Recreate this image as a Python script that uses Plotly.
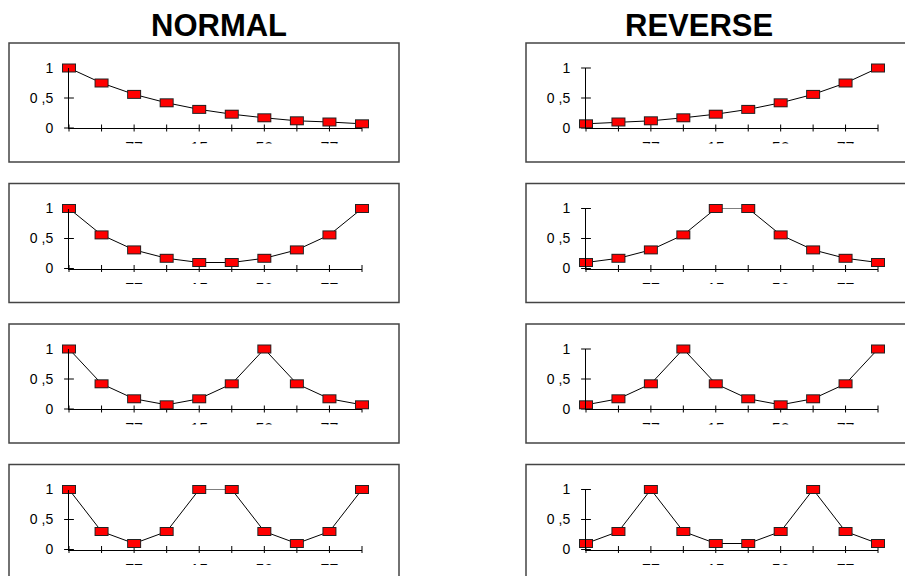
import plotly.graph_objects as go

# ---------------- data ----------------
x_idx = list(range(10))

normal_1 = [1, 0.75, 0.56, 0.42, 0.31, 0.23, 0.17, 0.12, 0.10, 0.07]
reverse_1 = [0.07, 0.10, 0.12, 0.17, 0.23, 0.31, 0.42, 0.56, 0.75, 1]
normal_2 = [1, 0.56, 0.31, 0.17, 0.10, 0.10, 0.17, 0.31, 0.56, 1]
reverse_2 = [0.10, 0.17, 0.31, 0.56, 1, 1, 0.56, 0.31, 0.17, 0.10]
normal_3 = [1, 0.42, 0.17, 0.07, 0.17, 0.42, 1, 0.42, 0.17, 0.07]
reverse_3 = [0.07, 0.17, 0.42, 1, 0.42, 0.17, 0.07, 0.17, 0.42, 1]
normal_4 = [1, 0.30, 0.10, 0.30, 1, 1, 0.30, 0.10, 0.30, 1]
reverse_4 = [0.10, 0.30, 1, 0.30, 0.10, 0.10, 0.30, 1, 0.30, 0.10]

y_tick_vals = [0, 0.5, 1]
y_tick_text = ["0", "0 ,5", "1"]
x_label_pos = [2, 4, 6, 8]
x_label_text = ["77", "15", "50", "77"]
column_titles = ["NORMAL", "REVERSE"]

rows = [(normal_1, reverse_1), (normal_2, reverse_2),
        (normal_3, reverse_3), (normal_4, reverse_4)]

# ---------------- layout geometry (pixels) ----------------
W, H = 905, 576
FONT = "Liberation Sans, Arial, sans-serif"
col_plot_x = [(69, 362), (586, 878)]
col_box_x = [(9, 399), (526, 912)]
row_step = 140.5
plot_top0, plot_bot0 = 68, 128
box_top0, box_bot0 = 43, 162


def px(x):
    return x / W


def py(y):
    return 1 - y / H


fig = go.Figure()
layout = dict(
    width=W, height=H, margin=dict(l=0, r=0, t=0, b=0, pad=0, autoexpand=False),
    paper_bgcolor="white", plot_bgcolor="white", showlegend=False,
    font=dict(family=FONT, color="black"),
)
shapes = []
annotations = []

for r, pair in enumerate(rows):
    for c, vals in enumerate(pair):
        n = r * 2 + c + 1
        xa = "x" if n == 1 else f"x{n}"
        ya = "y" if n == 1 else f"y{n}"
        xk = "xaxis" if n == 1 else f"xaxis{n}"
        yk = "yaxis" if n == 1 else f"yaxis{n}"
        top = plot_top0 + r * row_step
        bot = plot_bot0 + r * row_step
        x0, x1 = col_plot_x[c]

        # x tick marks (crossing the axis)
        fig.add_trace(go.Scatter(
            x=x_idx, y=[0] * len(x_idx), xaxis=xa, yaxis=ya, mode="markers",
            marker=dict(symbol="line-ns", size=5, color="black",
                        line=dict(width=1, color="black")),
            cliponaxis=False, hoverinfo="skip"))
        # y tick marks (crossing the axis)
        fig.add_trace(go.Scatter(
            x=[0] * len(y_tick_vals), y=y_tick_vals, xaxis=xa, yaxis=ya,
            mode="markers",
            marker=dict(symbol="line-ew", size=7, color="black",
                        line=dict(width=1, color="black")),
            cliponaxis=False, hoverinfo="skip"))
        # line + marker outline
        fig.add_trace(go.Scatter(
            x=x_idx, y=vals, xaxis=xa, yaxis=ya, mode="lines+markers",
            line=dict(color="black", width=1),
            marker=dict(symbol="line-ew", size=10, color="#222222",
                        line=dict(width=9, color="#222222")),
            cliponaxis=False))
        # red marker fill
        fig.add_trace(go.Scatter(
            x=x_idx, y=vals, xaxis=xa, yaxis=ya, mode="markers",
            marker=dict(symbol="line-ew", size=8.6, color="#ff0000",
                        line=dict(width=7, color="#ff0000")),
            cliponaxis=False, hoverinfo="skip"))

        layout[xk] = dict(
            domain=[px(x0), px(x1)], range=[0, 9], anchor=ya,
            showline=True, linecolor="black", linewidth=1,
            showgrid=False, zeroline=False, ticks="", automargin=False,
            tickmode="array", tickvals=x_label_pos, ticktext=x_label_text,
            tickfont=dict(size=16, family=FONT, color="black"),
            ticklabelstandoff=6, fixedrange=True)
        layout[yk] = dict(
            domain=[py(bot), py(top)], range=[0, 1], anchor=xa,
            showline=True, linecolor="black", linewidth=1,
            showgrid=False, zeroline=False, ticks="", automargin=False,
            tickmode="array", tickvals=y_tick_vals, ticktext=y_tick_text,
            tickfont=dict(size=14, family=FONT, color="black"),
            ticklabelstandoff=12, fixedrange=True)

        # panel box + white cover clipping the x tick labels
        bx0, bx1 = col_box_x[c]
        btop = box_top0 + r * row_step
        bbot = box_bot0 + r * row_step
        shapes.append(dict(
            type="rect", xref="paper", yref="paper", layer="above",
            x0=px(bx0 + 1), x1=px(bx1 - 1), y0=py(bbot - 1), y1=py(bot + 15.5),
            fillcolor="white", line=dict(width=0)))
        shapes.append(dict(
            type="rect", xref="paper", yref="paper", layer="above",
            x0=px(bx0), x1=px(bx1), y0=py(bbot), y1=py(btop),
            fillcolor="rgba(0,0,0,0)", line=dict(color="#444444", width=1.5)))

for c, title in enumerate(column_titles):
    cx = [218.5, 698.5][c]
    annotations.append(dict(
        text=f"<b>{title}</b>", xref="paper", yref="paper",
        x=px(cx), y=py(25), xanchor="center", yanchor="middle",
        showarrow=False, font=dict(size=31, family=FONT, color="black")))

layout["shapes"] = shapes
layout["annotations"] = annotations
fig.update_layout(**layout)
fig.write_html("out.html",
               config={"displayModeBar": False, "staticPlot": True},
               post_script="document.body.style.margin='0px';"
                           "document.body.style.overflow='hidden';")
